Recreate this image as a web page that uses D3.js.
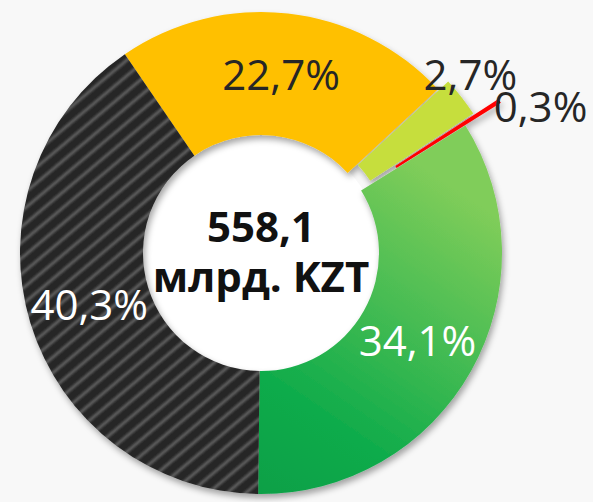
<!DOCTYPE html>
<html>
<head>
<meta charset="utf-8">
<script src="https://cdn.jsdelivr.net/npm/d3@7"></script>
<style>
  html, body { margin: 0; padding: 0; background: #f8f8f8; }
  svg { display: block; }
</style>
</head>
<body>
<svg id="chart"></svg>
<script>
(function () {
    // data
    const categories = ['yellow', 'lime', 'red', 'green', 'dark'];
    const values = [22.7, 2.7, 0.3, 34.1, 40.3];
    const totalLines = ['558,1', 'млрд. KZT'];

    const width = 593;
    const height = 502;
    const cx = 261;
    const cy = 253;
    const outer = 241;
    const inner = 118;

    const fills = {
        yellow: '#ffc000',
        lime: '#c6de3e',
        red: '#ff0000',
        green: 'url(#greenGrad)',
        dark: 'url(#stripes)'
    };
    const explode = { lime: 13, red: 42 };
    const labelColor = { yellow: '#262626', lime: '#262626', red: '#262626', green: '#fff', dark: '#fff' };

    const start = -34.4 * Math.PI / 180;
    const pie = d3.pie()
        .sort(null)
        .value(d => d.value)
        .startAngle(start)
        .endAngle(start + 2 * Math.PI);

    const arcs = pie(categories.map((c, i) => ({ key: c, value: values[i] })));

    const arc = d3.arc().innerRadius(inner).outerRadius(outer);

    const svg = d3.select('#chart')
        .attr('width', width)
        .attr('height', height);

    const defs = svg.append('defs');

    const shadow = defs.append('filter')
        .attr('id', 'shadow')
        .attr('x', '-20%').attr('y', '-20%')
        .attr('width', '140%').attr('height', '140%');
    shadow.append('feDropShadow')
        .attr('dx', 2).attr('dy', 4)
        .attr('stdDeviation', 3)
        .attr('flood-color', '#000')
        .attr('flood-opacity', 0.35);

    const grad = defs.append('linearGradient')
        .attr('id', 'greenGrad')
        .attr('gradientUnits', 'userSpaceOnUse')
        .attr('x1', cx + 10).attr('y1', cy + 230)
        .attr('x2', cx + 240).attr('y2', cy - 110);
    grad.append('stop').attr('offset', 0).attr('stop-color', '#079a44');
    grad.append('stop').attr('offset', 0.35).attr('stop-color', '#0dab4b');
    grad.append('stop').attr('offset', 1).attr('stop-color', '#80cd5a');

    const period = 12;
    const pat = defs.append('pattern')
        .attr('id', 'stripes')
        .attr('patternUnits', 'userSpaceOnUse')
        .attr('width', period).attr('height', period)
        .attr('patternTransform', 'rotate(-40)');
    const sg = defs.append('linearGradient')
        .attr('id', 'stripeGrad')
        .attr('x1', 0).attr('y1', 0).attr('x2', 0).attr('y2', 1);
    sg.append('stop').attr('offset', 0).attr('stop-color', '#282828');
    sg.append('stop').attr('offset', 0.25).attr('stop-color', '#282828');
    sg.append('stop').attr('offset', 0.5).attr('stop-color', '#5e5e5e');
    sg.append('stop').attr('offset', 0.75).attr('stop-color', '#282828');
    sg.append('stop').attr('offset', 1).attr('stop-color', '#282828');
    pat.append('rect')
        .attr('width', period).attr('height', period)
        .attr('fill', 'url(#stripeGrad)');

    svg.append('rect')
        .attr('width', width).attr('height', height)
        .attr('fill', '#f8f8f8');

    const g = svg.append('g')
        .attr('transform', `translate(${cx},${cy})`);

    g.append('circle')
        .attr('r', inner + 2)
        .attr('fill', '#fff');

    const offset = d => {
        const a = (d.startAngle + d.endAngle) / 2;
        const k = explode[d.data.key] || 0;
        return [Math.sin(a) * k, -Math.cos(a) * k];
    };

    g.append('g')
        .attr('filter', 'url(#shadow)')
        .selectAll('path')
        .data(arcs)
        .join('path')
        .attr('transform', d => `translate(${offset(d)})`)
        .attr('d', arc)
        .attr('fill', d => fills[d.data.key]);

    const fmt = v => v.toFixed(1).replace('.', ',') + '%';

    // inside labels sit on the ring centroid, tiny slices get theirs outside
    const labelPos = d => {
        const key = d.data.key;
        const mid = (d.startAngle + d.endAngle) / 2;
        if (key === 'lime') {
            const a = mid - 2.5 * Math.PI / 180;
            return [Math.sin(a) * 275, -Math.cos(a) * 275];
        }
        if (key === 'red') {
            return [Math.sin(mid) * 276, -Math.cos(mid) * 276];
        }
        return arc.centroid(d);
    };

    g.append('g')
        .selectAll('text')
        .data(arcs)
        .join('text')
        .attr('x', d => labelPos(d)[0])
        .attr('y', d => labelPos(d)[1])
        .attr('dy', d => d.data.key === 'red' ? '0.42em' : '0.36em')
        .attr('text-anchor', d => d.data.key === 'red' ? 'start' : 'middle')
        .attr('font-family', '"Open Sans", "Noto Sans", sans-serif')
        .attr('font-size', 42)
        .attr('fill', d => labelColor[d.data.key])
        .text(d => fmt(d.data.value));

    g.append('text')
        .attr('text-anchor', 'middle')
        .attr('font-family', '"Open Sans", "Noto Sans", sans-serif')
        .attr('font-size', 42)
        .attr('font-weight', 'bold')
        .attr('fill', '#111')
        .selectAll('tspan')
        .data(totalLines)
        .join('tspan')
        .attr('x', 0)
        .attr('y', (d, i) => -11 + i * 50)
        .text(d => d);
})();
</script>
</body>
</html>
